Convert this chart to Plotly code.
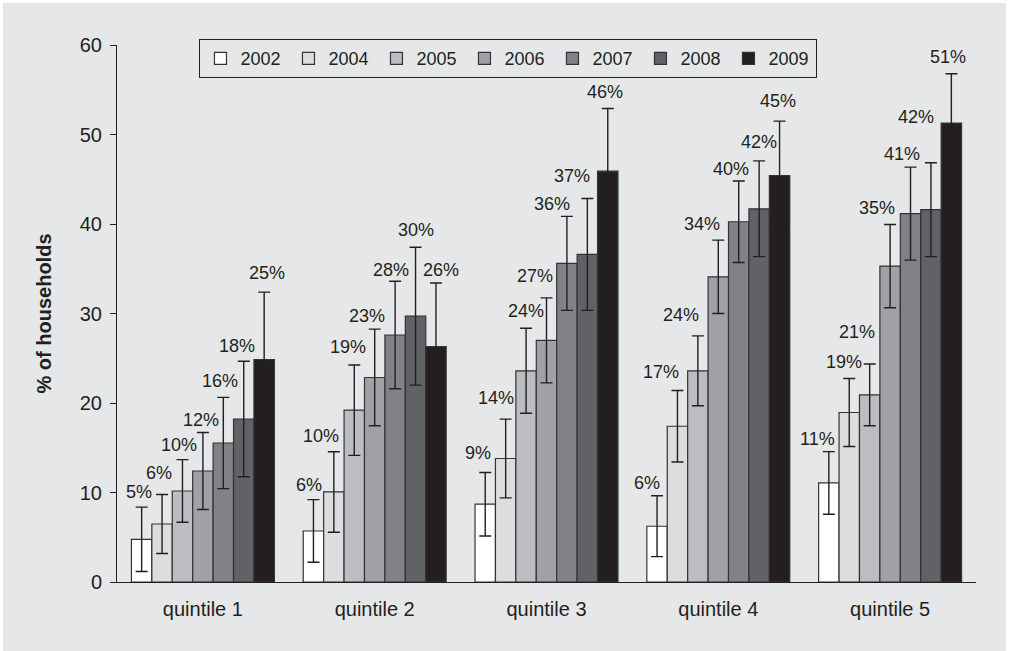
import plotly.graph_objects as go

# ---- data -------------------------------------------------------------
quintiles = ["quintile 1", "quintile 2", "quintile 3", "quintile 4", "quintile 5"]
years = ["2002", "2004", "2005", "2006", "2007", "2008", "2009"]

share_2002 = [4.77, 5.70, 8.69, 6.23, 11.07]
share_2004 = [6.48, 10.06, 13.8, 17.4, 18.94]
share_2005 = [10.17, 19.2, 23.6, 23.6, 20.9]
share_2006 = [12.4, 22.85, 27.0, 34.1, 35.3]
share_2007 = [15.53, 27.6, 35.6, 40.25, 41.16]
share_2008 = [18.21, 29.7, 36.6, 41.7, 41.6]
share_2009 = [24.84, 26.3, 45.9, 45.4, 51.28]

ci_2002 = [3.6, 3.5, 3.55, 3.4, 3.5]
ci_2004 = [3.3, 4.5, 4.4, 4.0, 3.8]
ci_2005 = [3.5, 5.05, 4.75, 3.9, 3.45]
ci_2006 = [4.3, 5.4, 4.75, 4.1, 4.65]
ci_2007 = [5.1, 6.0, 5.25, 4.55, 5.2]
ci_2008 = [6.45, 7.7, 6.25, 5.35, 5.25]
ci_2009 = [7.55, 7.1, 7.0, 6.1, 5.5]

shares = [share_2002, share_2004, share_2005, share_2006, share_2007, share_2008, share_2009]
cis = [ci_2002, ci_2004, ci_2005, ci_2006, ci_2007, ci_2008, ci_2009]

# ---- styling ----------------------------------------------------------
fills = ["#ffffff", "#dcdddf", "#bcbdc0", "#a0a1a4", "#808285", "#616265", "#231f20"]
bg = "#e6e7e8"
ink = "#231f20"
font_family = "Liberation Sans, Arial, Helvetica, sans-serif"
bargap = 0.168

# pixel nudges for the percentage labels (per year, per quintile): horizontal shift
# and gap between the top of the error bar and the label
label_dx = [
    [-3, -4, -7, -10, -11],
    [-3, -13, -10, -16, -5],
    [-3, -6, 0, -17, -13],
    [-2, -8, -12, -16, -13],
    [-3, -4, -15, -8, -9],
    [-7, 0, -15, 0, -15],
    [3, 5, -3, -2, -3],
]
label_gap = [
    [8, 8, 12, 6, 6],
    [14, 9, 14, 11, 9],
    [8, 11, 10, 14, 25],
    [6, 6, 15, 9, 9],
    [9, 4, 5, 5, 6],
    [8, 10, 15, 12, 39],
    [12, 6, 10, 13, 10],
]

fig = go.Figure()
xpos = list(range(len(quintiles)))
for yr, vals, err, col in zip(years, shares, cis, fills):
    fig.add_trace(go.Bar(
        name=yr, x=xpos, y=vals,
        marker=dict(color=col, line=dict(color="#333333", width=1.2)),
        error_y=dict(type="data", array=err, visible=True,
                     color=ink, thickness=1.4, width=6),
    ))

# percentage labels above each error bar
slot = (1 - bargap) / len(years)
annotations = []
for i, (vals, err) in enumerate(zip(shares, cis)):
    off = -(1 - bargap) / 2 + (i + 0.5) * slot
    for q, (v, e) in enumerate(zip(vals, err)):
        annotations.append(dict(
            x=q + off, y=v + e, xref="x", yref="y",
            text=f"{round(v)}%", showarrow=False,
            xanchor="center", yanchor="bottom",
            xshift=label_dx[i][q], yshift=label_gap[i][q] - 5,
            font=dict(size=18, color=ink, family=font_family),
        ))

fig.update_layout(
    width=1009, height=651,
    margin=dict(l=117, r=33, t=45, b=69),
    paper_bgcolor="#ffffff", plot_bgcolor=bg,
    barmode="group", bargap=bargap, bargroupgap=0,
    font=dict(family=font_family, color=ink),
    showlegend=True,
    legend=dict(
        orientation="h", x=0.096, xanchor="left", y=1.011, yanchor="top",
        bgcolor=bg, bordercolor=ink, borderwidth=1,
        font=dict(size=18, color=ink), entrywidth=43, traceorder="normal",
    ),
    annotations=annotations,
    shapes=[dict(type="rect", xref="paper", yref="paper", layer="below",
                 x0=-0.1327, x1=1.0349, y0=-0.1285, y1=1.078,
                 fillcolor=bg, line=dict(width=0))],
)

fig.update_xaxes(
    tickvals=xpos, ticktext=quintiles, range=[-0.5, 4.5],
    showline=True, linecolor=ink, linewidth=1, ticks="",
    showgrid=False, zeroline=False,
    tickfont=dict(size=20, color=ink), ticklabelstandoff=9,
)
fig.update_yaxes(
    range=[0, 60], tickvals=[0, 10, 20, 30, 40, 50, 60],
    showline=True, linecolor=ink, linewidth=1,
    ticks="outside", ticklen=6, tickcolor=ink, tickwidth=1,
    showgrid=False, zeroline=False,
    tickfont=dict(size=20, color=ink), ticklabelstandoff=4,
    title=dict(text="<b>% of households</b>", font=dict(size=20, color=ink), standoff=22),
)

fig.write_html("out.html")
